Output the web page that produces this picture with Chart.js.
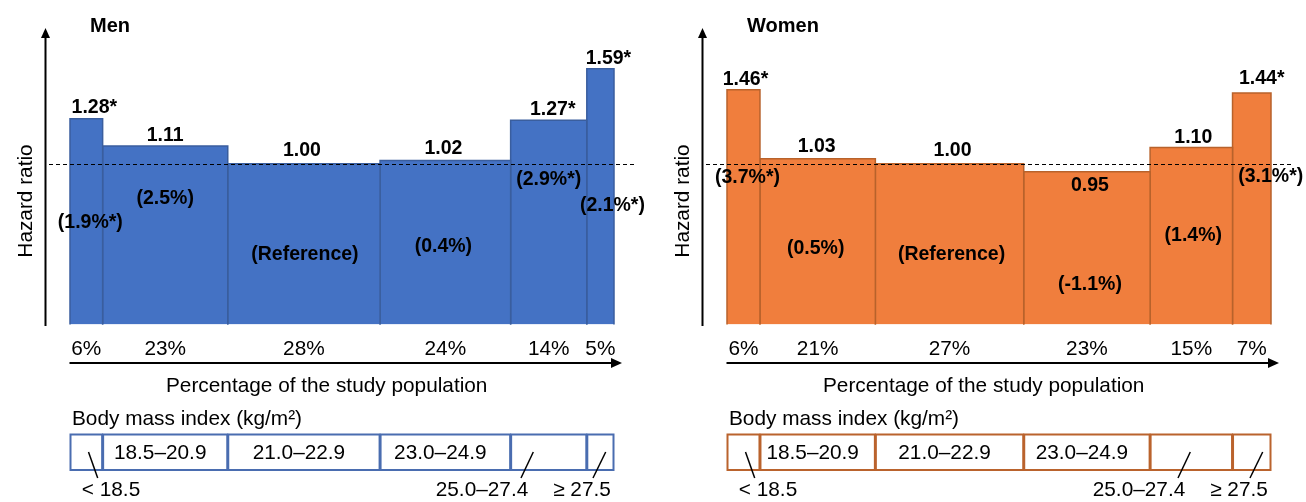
<!DOCTYPE html>
<html>
<head>
<meta charset="utf-8">
<script src="https://cdn.jsdelivr.net/npm/chart.js@4.4.1/dist/chart.umd.min.js"></script>
<style>
  html, body { margin: 0; padding: 0; background: #fff; overflow: hidden; }
  .panel { position: absolute; top: 0; width: 649px; height: 502px; }
</style>
</head>
<body>
<div class="panel" style="left:0"><canvas id="menChart" width="649" height="502"></canvas></div>
<div class="panel" style="left:657px"><canvas id="womenChart" width="649" height="502"></canvas></div>
<script>
// BMI groups (kg/m2)
const bmiGroups = ['< 18.5', '18.5–20.9', '21.0–22.9', '23.0–24.9', '25.0–27.4', '≥ 27.5'];

// share of the study population (%) -> bar widths
const menShare = [6, 23, 28, 24, 14, 5];
const womenShare = [6, 21, 27, 23, 15, 7];

// hazard ratios -> bar heights
const menHR = [1.28, 1.11, 1.00, 1.02, 1.27, 1.59];
const womenHR = [1.46, 1.03, 1.00, 0.95, 1.10, 1.44];

// significant hazard ratio (*)
const menSig = [true, false, false, false, true, true];
const womenSig = [true, false, false, false, false, true];

// notes written inside the bars
const menNotes = ['(1.9%*)', '(2.5%)', '(Reference)', '(0.4%)', '(2.9%*)', '(2.1%*)'];
const womenNotes = ['(3.7%*)', '(0.5%)', '(Reference)', '(-1.1%)', '(1.4%)', '(3.1%*)'];

// label placement only: [dx px from bar centre, dy px from bar top]
const menValuePos = [[8, -11], [0, -10], [-2, -13], [-2, -12], [4, -11], [8, -10]];
const womenValuePos = [[2, -10], [-1, -12], [3, -13], [3, 14], [2, -10], [10, -14]];
// [dx px from bar centre, height in HR units]
const menNotePos = [[4, 0.62], [0, 0.77], [1, 0.42], [-2, 0.47], [0, 0.89], [12, 0.725]];
const womenNotePos = [[4, 0.9], [-2, 0.457], [2, 0.42], [3, 0.233], [2, 0.538], [19, 0.905]];

const FONT = '"Liberation Sans", Arial, Helvetica, sans-serif';
const TEXT_SIZE = 20.8;

function cumulative(arr) {
    let out = [0];
    for (const v of arr) out.push(out[out.length - 1] + v);
    return out;
}

function makePanel(canvasId, cfg) {
    const edges = cumulative(cfg.share);
    const centers = cfg.share.map((s, i) => edges[i] + s / 2);

    // one outlined, filled polygon per BMI group
    const datasets = cfg.hr.map((h, i) => ({
        data: [
            {x: edges[i], y: 0},
            {x: edges[i], y: h},
            {x: edges[i + 1], y: h},
            {x: edges[i + 1], y: 0}
        ],
        backgroundColor: cfg.fill,
        borderColor: cfg.edge,
        borderWidth: 1.5,
        fill: 'origin',
        pointRadius: 0,
        tension: 0,
        clip: false
    }));

    const decor = {
        id: 'decor',
        afterDatasetsDraw(chart) {
            const {ctx, chartArea: a} = chart;
            const x = chart.scales.x, y = chart.scales.y;
            ctx.save();

            // dashed reference line at HR = 1
            const y1 = Math.round(y.getPixelForValue(1)) + 0.5;
            ctx.strokeStyle = '#000';
            ctx.lineWidth = 1;
            ctx.setLineDash([4, 3]);
            ctx.beginPath();
            ctx.moveTo(a.left - 21, y1);
            ctx.lineTo(a.right + 22, y1);
            ctx.stroke();
            ctx.setLineDash([]);

            // hazard ratio labels
            ctx.fillStyle = '#000';
            ctx.font = 'bold 19.5px ' + FONT;
            ctx.textAlign = 'center';
            ctx.textBaseline = 'middle';
            cfg.hr.forEach((h, i) => {
                const cx = x.getPixelForValue(centers[i]);
                const top = y.getPixelForValue(h);
                const p = cfg.valuePos[i];
                ctx.fillText(h.toFixed(2) + (cfg.sig[i] ? '*' : ''), cx + p[0], top + p[1]);
            });
            // notes inside bars
            cfg.notes.forEach((n, i) => {
                const cx = x.getPixelForValue(centers[i]);
                const p = cfg.notePos[i];
                ctx.fillText(n, cx + p[0], y.getPixelForValue(p[1]) - 2);
            });

            // axis arrows
            ctx.strokeStyle = '#000';
            ctx.lineWidth = 2;
            const ax = a.left - 24.5;
            ctx.beginPath();
            ctx.moveTo(ax, a.bottom + 1.5);
            ctx.lineTo(ax, a.top + 8);
            ctx.stroke();
            ctx.beginPath();
            ctx.moveTo(ax, a.top + 1);
            ctx.lineTo(ax - 4.5, a.top + 11);
            ctx.lineTo(ax + 4.5, a.top + 11);
            ctx.closePath();
            ctx.fill();

            const ay = a.bottom + 38.5;
            ctx.beginPath();
            ctx.moveTo(a.left - 0.5, ay);
            ctx.lineTo(a.right + 1, ay);
            ctx.stroke();
            ctx.beginPath();
            ctx.moveTo(a.right + 8, ay);
            ctx.lineTo(a.right - 3, ay - 5);
            ctx.lineTo(a.right - 3, ay + 5);
            ctx.closePath();
            ctx.fill();

            // titles
            ctx.textAlign = 'left';
            ctx.textBaseline = 'alphabetic';
            ctx.font = 'bold 20px ' + FONT;
            ctx.fillText(cfg.title, a.left + 20, 32);

            ctx.font = TEXT_SIZE + 'px ' + FONT;
            ctx.save();
            ctx.translate(32, 201);
            ctx.rotate(-Math.PI / 2);
            ctx.textAlign = 'center';
            ctx.fillText('Hazard ratio', 0, 0);
            ctx.restore();

            ctx.fillText('Percentage of the study population', a.left + 96, a.bottom + 67);
            ctx.fillText('Body mass index (kg/m²)', a.left + 2, a.bottom + 100);

            // BMI boxes aligned with the bars
            const bTop = a.bottom + 110, bBot = a.bottom + 145.5;
            ctx.strokeStyle = cfg.boxEdge;
            ctx.lineWidth = 2;
            ctx.textAlign = 'center';
            ctx.textBaseline = 'middle';
            bmiGroups.forEach((g, i) => {
                const x0 = x.getPixelForValue(edges[i]);
                const x1 = x.getPixelForValue(edges[i + 1]);
                ctx.strokeRect(x0 + 0.5, bTop, x1 - x0 - 1, bBot - bTop);
                if (i >= 1 && i <= 3) {
                    ctx.fillText(g, (x0 + x1) / 2 - 5, (bTop + bBot) / 2 + 1);
                }
            });

            // call-outs for the narrow boxes
            ctx.strokeStyle = '#000';
            ctx.lineWidth = 1.5;
            const callouts = [[0, 41, 18.5, 27.7], [4, 412, 463.3, 451], [5, 512, 535.7, 523]];
            callouts.forEach(c => {
                ctx.beginPath();
                ctx.moveTo(a.left + c[2], a.bottom + 127.5);
                ctx.lineTo(a.left + c[3], a.bottom + 153.5);
                ctx.stroke();
                ctx.fillText(bmiGroups[c[0]], a.left + c[1], a.bottom + 166);
            });

            ctx.restore();
        }
    };

    return new Chart(document.getElementById(canvasId), {
        type: 'line',
        data: {datasets: datasets},
        options: {
            responsive: false,
            animation: false,
            layout: {padding: {top: 27, left: 70, right: 35, bottom: 0}},
            plugins: {legend: {display: false}, tooltip: {enabled: false}},
            scales: {
                x: {
                    type: 'linear',
                    min: 0,
                    max: edges[edges.length - 1],
                    grid: {display: false, drawTicks: false},
                    border: {display: false},
                    afterBuildTicks: s => { s.ticks = centers.map(v => ({value: v})); },
                    afterFit: s => { s.height = 177.5; },
                    ticks: {
                        autoSkip: false,
                        maxRotation: 0,
                        padding: 12,
                        color: '#000',
                        font: {size: TEXT_SIZE, family: FONT},
                        callback: (v, i) => cfg.share[i] + '%'
                    }
                },
                y: {display: false, min: 0, max: 1.85}
            }
        },
        plugins: [decor]
    });
}

makePanel('menChart', {
    title: 'Men', share: menShare, hr: menHR, sig: menSig, notes: menNotes,
    valuePos: menValuePos, notePos: menNotePos,
    fill: '#4472C4', edge: '#3A5E9E', boxEdge: '#4A6DB0'
});
makePanel('womenChart', {
    title: 'Women', share: womenShare, hr: womenHR, sig: womenSig, notes: womenNotes,
    valuePos: womenValuePos, notePos: womenNotePos,
    fill: '#F07E3D', edge: '#B8622B', boxEdge: '#BA632D'
});
</script>
</body>
</html>
